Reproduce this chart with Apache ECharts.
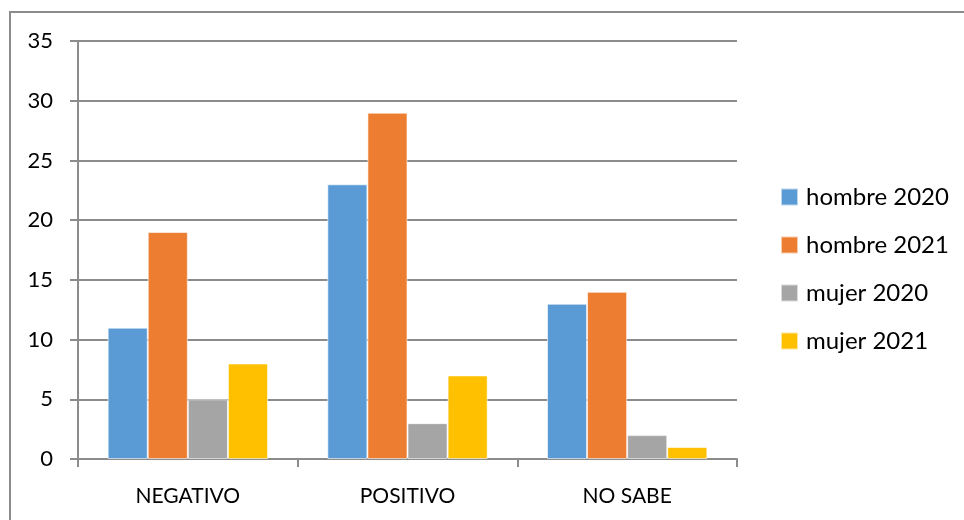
<!DOCTYPE html>
<html><head><meta charset="utf-8">
<script src="https://cdn.jsdelivr.net/npm/echarts@6/dist/echarts.min.js"></script>
<style>html,body{margin:0;padding:0;background:#fff}#c{width:964px;height:520px}</style>
</head><body><div id="c"></div>
<script>
const categories = ['NEGATIVO', 'POSITIVO', 'NO SABE'];
const seriesNames = ['hombre 2020', 'hombre 2021', 'mujer 2020', 'mujer 2021'];
const hombre2020 = [11, 23, 13];
const hombre2021 = [19, 29, 14];
const mujer2020 = [5, 3, 2];
const mujer2021 = [8, 7, 1];
const yTicks = [0, 5, 10, 15, 20, 25, 30, 35];
const colors = ['#5B9BD5', '#ED7D31', '#A5A5A5', '#FFC000'];
const values = [hombre2020, hombre2021, mujer2020, mujer2021];
const font = 'Lato, "Open Sans", sans-serif';
const chart = echarts.init(document.getElementById('c'));
chart.setOption({
  animation: false,
  color: colors,
  graphic: [{type: 'rect', shape: {x: 10, y: 12, width: 980, height: 540}, style: {fill: 'none', stroke: '#8c8c8c', lineWidth: 2}}],
  grid: {left: 78, right: 227, top: 41, bottom: 61},
  legend: {
    orient: 'vertical', left: 780, top: 185, padding: 0, itemWidth: 17, itemHeight: 17, itemGap: 24,
    icon: 'rect', data: seriesNames,
    textStyle: {fontFamily: font, fontSize: 24, lineHeight: 24, color: '#000', padding: [0, 0, 0, 3]}
  },
  xAxis: {
    type: 'category', data: categories,
    axisLine: {lineStyle: {color: '#8c8c8c', width: 2}},
    axisTick: {show: true, length: 8, lineStyle: {color: '#8c8c8c', width: 2}},
    axisLabel: {fontFamily: font, fontSize: 21, color: '#000', margin: 27}
  },
  yAxis: {
    type: 'value', min: yTicks[0], max: yTicks[yTicks.length - 1], interval: 5,
    axisLine: {show: true, lineStyle: {color: '#8c8c8c', width: 2}},
    axisTick: {show: true, length: 8, lineStyle: {color: '#8c8c8c', width: 2}},
    splitLine: {lineStyle: {color: '#8c8c8c', width: 2}},
    axisLabel: {fontFamily: font, fontSize: 22, color: '#000', margin: 25}
  },
  series: seriesNames.map((n, i) => ({
    name: n, type: 'bar', data: values[i], barGap: '0%', barCategoryGap: '27%',
    itemStyle: {borderColor: 'rgba(255,255,255,0.6)', borderWidth: 1}
  }))
});
</script></body></html>
